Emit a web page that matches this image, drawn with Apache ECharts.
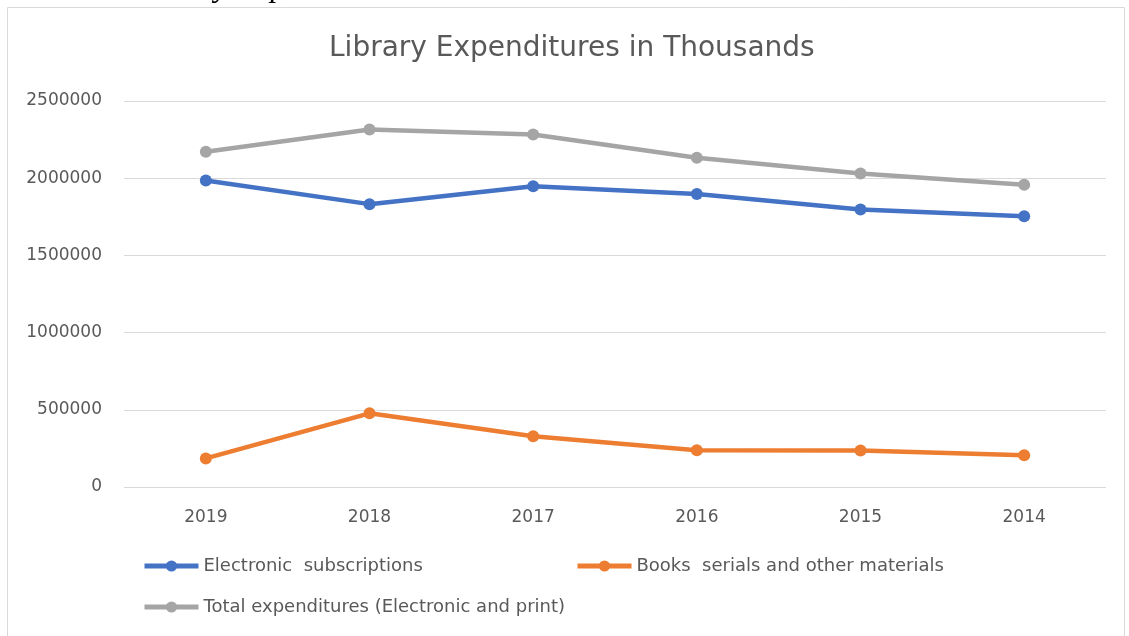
<!DOCTYPE html>
<html>
<head>
<meta charset="utf-8">
<script src="https://cdn.jsdelivr.net/npm/echarts@6/dist/echarts.min.js"></script>
<style>
html,body{margin:0;padding:0;background:#fff;}
#c{width:1129px;height:636px;}
</style>
</head>
<body>
<div id="c"></div>
<script>
const categories = ['2019', '2018', '2017', '2016', '2015', '2014'];
const electronic = [1985000, 1832000, 1948000, 1898000, 1797000, 1753000];
const books = [185000, 477000, 329000, 238000, 236000, 206000];
const total = [2171000, 2315000, 2283000, 2132000, 2030000, 1958000];
const yTicks = [0, 500000, 1000000, 1500000, 2000000, 2500000];
const seriesNames = ['Electronic  subscriptions', 'Books  serials and other materials', 'Total expenditures (Electronic and print)'];
const colors = ['#4472C4', '#ED7D31', '#A5A5A5'];

const FONT = 'DejaVu Sans';
const TXT = '#595959';
const chart = echarts.init(document.getElementById('c'), null, {renderer: 'canvas'});

function lineSeries(name, data, color) {
  return {
    name: name, type: 'line', data: data,
    symbol: 'circle', symbolSize: 12,
    lineStyle: {width: 4.5, color: color},
    itemStyle: {color: color},
    emphasis: {disabled: true},
    animation: false
  };
}
function legendAt(name, left, top) {
  return {
    data: [name], left: left, top: top, itemWidth: 54, itemHeight: 14, itemGap: 4,
    lineStyle: {width: 5},
    textStyle: {fontFamily: FONT, fontSize: 18, color: TXT},
    selectedMode: false
  };
}

chart.setOption({
  animation: false,
  color: colors,
  title: {
    text: 'Library Expenditures in Thousands',
    left: 324, top: 30,
    textStyle: {fontFamily: FONT, fontSize: 28, fontWeight: 'normal', color: TXT}
  },
  graphic: [
    {type: 'rect', shape: {x: 7.5, y: 7.5, width: 1117, height: 640}, style: {fill: null, stroke: '#d9d9d9', lineWidth: 1}, silent: true},
    {type: 'text', left: 131, top: -28, style: {text: 'Library Expenditures', font: 'italic 32px "Liberation Serif"', fill: '#000'}, silent: true}
  ],
  legend: [
    legendAt(seriesNames[0], 137, 552),
    legendAt(seriesNames[1], 570, 552),
    legendAt(seriesNames[2], 137, 593)
  ],
  grid: {left: 124, right: 23, top: 101, bottom: 149, containLabel: false},
  xAxis: {
    type: 'category', data: categories, boundaryGap: true,
    axisLine: {show: false}, axisTick: {show: false},
    axisLabel: {fontFamily: FONT, fontSize: 17, color: TXT, margin: 22}
  },
  yAxis: {
    type: 'value', min: yTicks[0], max: yTicks[yTicks.length - 1], interval: yTicks[1] - yTicks[0],
    axisLine: {show: false}, axisTick: {show: false},
    axisLabel: {fontFamily: FONT, fontSize: 17, color: TXT, margin: 22, formatter: function (v) { return String(v); }},
    splitLine: {lineStyle: {color: '#d9d9d9', width: 1}}
  },
  series: [
    lineSeries(seriesNames[0], electronic, colors[0]),
    lineSeries(seriesNames[1], books, colors[1]),
    lineSeries(seriesNames[2], total, colors[2])
  ]
});
</script>
</body>
</html>
